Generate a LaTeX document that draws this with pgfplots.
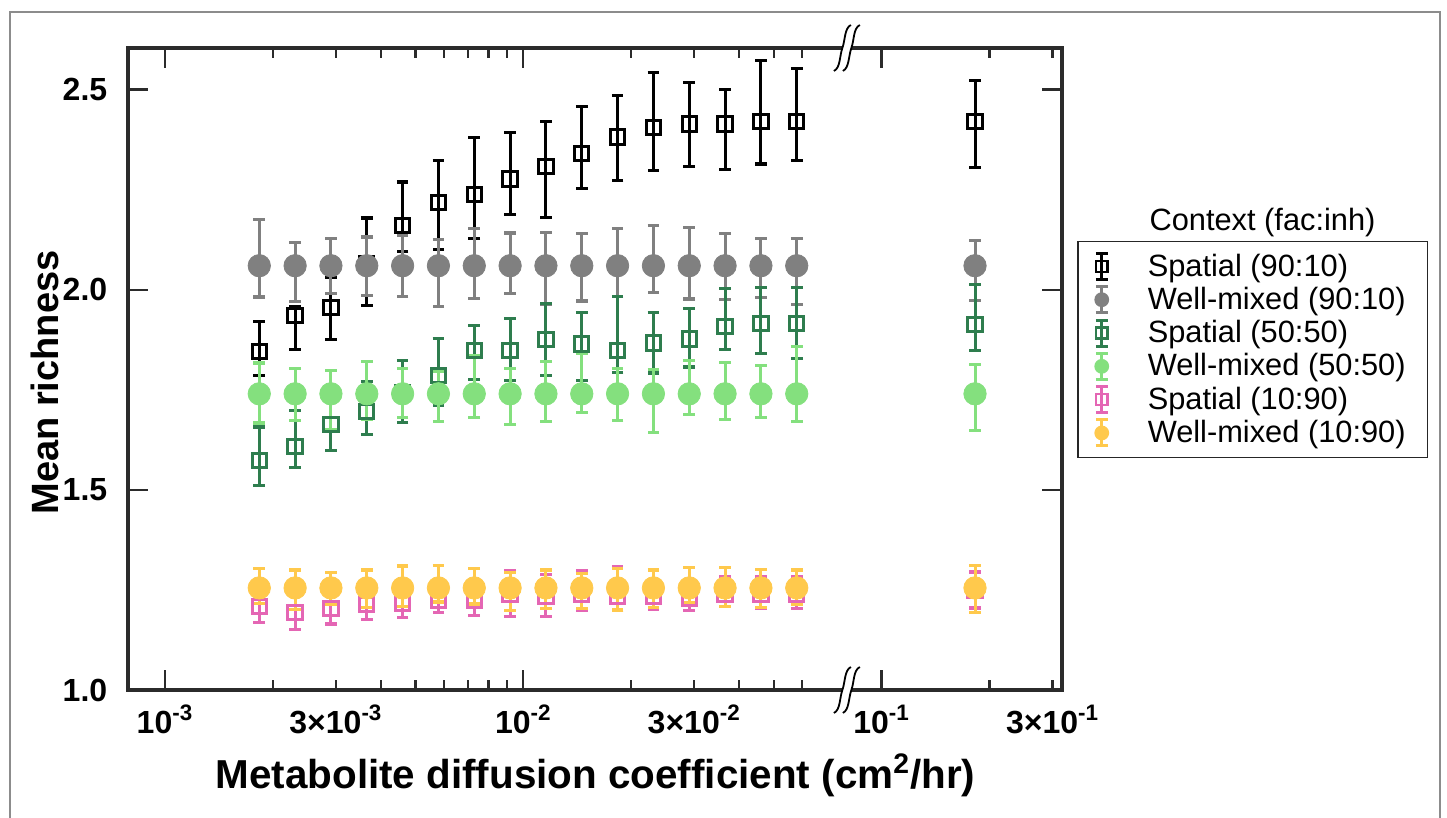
\documentclass[border=0pt]{standalone}
\usepackage{pgfplots}
\pgfplotsset{compat=1.18}
\usepackage{pgfplotstable}
\usepackage{fontspec}
\setmainfont{Liberation Sans}
\definecolor{cgray}{HTML}{808080}
\definecolor{cdg}{HTML}{2E7D4E}
\definecolor{clg}{HTML}{84E07E}
\definecolor{cpk}{HTML}{E466B4}
\definecolor{cyl}{HTML}{FFC94C}
\definecolor{axc}{HTML}{2B2B2B}

\pgfplotstableread{
x y ep em
0.001833 1.845 0.076 0.060
0.002308 1.935 0.023 0.085
0.002905 1.955 0.075 0.080
0.003658 2.065 0.114 0.105
0.004605 2.161 0.108 0.065
0.005797 2.218 0.105 0.118
0.007298 2.238 0.143 0.109
0.009188 2.277 0.115 0.089
0.011567 2.308 0.113 0.127
0.014562 2.340 0.118 0.088
0.018332 2.382 0.104 0.109
0.023079 2.406 0.136 0.108
0.029055 2.414 0.104 0.106
0.036578 2.414 0.086 0.114
0.046049 2.420 0.153 0.106
0.057972 2.420 0.133 0.097
0.1823 2.420 0.103 0.115
}\tblSpatA

\pgfplotstableread{
x y ep em
0.001833 2.060 0.115 0.078
0.002308 2.060 0.058 0.089
0.002905 2.060 0.068 0.070
0.003658 2.060 0.072 0.074
0.004605 2.060 0.077 0.077
0.005797 2.060 0.065 0.102
0.007298 2.060 0.093 0.081
0.009188 2.060 0.082 0.070
0.011567 2.060 0.083 0.096
0.014562 2.060 0.080 0.088
0.018332 2.060 0.093 0.077
0.023079 2.060 0.100 0.067
0.029055 2.060 0.096 0.083
0.036578 2.060 0.080 0.085
0.046049 2.060 0.069 0.079
0.057972 2.060 0.068 0.096
0.1823 2.060 0.063 0.087
}\tblWellA

\pgfplotstableread{
x y ep em
0.001833 1.573 0.084 0.062
0.002308 1.608 0.090 0.052
0.002905 1.663 0.064 0.065
0.003658 1.696 0.075 0.058
0.004605 1.742 0.081 0.074
0.005797 1.785 0.094 0.075
0.007298 1.848 0.062 0.073
0.009188 1.848 0.080 0.075
0.011567 1.875 0.090 0.090
0.014562 1.864 0.079 0.091
0.018332 1.848 0.135 0.055
0.023079 1.867 0.076 0.075
0.029055 1.877 0.076 0.070
0.036578 1.908 0.096 0.058
0.046049 1.915 0.091 0.075
0.057972 1.915 0.091 0.086
0.1823 1.913 0.101 0.065
}\tblSpatB

\pgfplotstableread{
x y ep em
0.001833 1.740 0.077 0.073
0.002308 1.740 0.063 0.067
0.002905 1.740 0.058 0.090
0.003658 1.740 0.081 0.065
0.004605 1.740 0.064 0.060
0.005797 1.740 0.056 0.069
0.007298 1.740 0.095 0.059
0.009188 1.740 0.063 0.076
0.011567 1.740 0.081 0.069
0.014562 1.740 0.102 0.047
0.018332 1.740 0.064 0.067
0.023079 1.740 0.060 0.097
0.029055 1.740 0.083 0.052
0.036578 1.740 0.078 0.065
0.046049 1.740 0.071 0.059
0.057972 1.740 0.118 0.069
0.1823 1.740 0.074 0.092
}\tblWellB

\pgfplotstableread{
x y ep em
0.001833 1.208 0.040 0.039
0.002308 1.194 0.042 0.042
0.002905 1.204 0.040 0.039
0.003658 1.214 0.040 0.037
0.004605 1.217 0.040 0.035
0.005797 1.225 0.040 0.032
0.007298 1.225 0.040 0.038
0.009188 1.238 0.060 0.055
0.011567 1.233 0.055 0.050
0.014562 1.238 0.060 0.040
0.018332 1.233 0.075 0.033
0.023079 1.235 0.040 0.033
0.029055 1.229 0.040 0.031
0.036578 1.238 0.045 0.030
0.046049 1.238 0.045 0.035
0.057972 1.238 0.045 0.035
0.1823 1.250 0.045 0.045
}\tblSpatC

\pgfplotstableread{
x y ep em
0.001833 1.255 0.049 0.038
0.002308 1.255 0.045 0.053
0.002905 1.255 0.038 0.042
0.003658 1.255 0.045 0.049
0.004605 1.255 0.055 0.047
0.005797 1.255 0.056 0.035
0.007298 1.255 0.049 0.040
0.009188 1.255 0.038 0.057
0.011567 1.255 0.045 0.052
0.014562 1.255 0.037 0.052
0.018332 1.255 0.048 0.055
0.023079 1.255 0.045 0.049
0.029055 1.255 0.051 0.037
0.036578 1.255 0.052 0.047
0.046049 1.255 0.047 0.048
0.057972 1.255 0.045 0.042
0.1823 1.255 0.056 0.062
}\tblWellC

\pgfplotsset{
  spat/.style={only marks, color=#1, mark=square, mark size=3.6pt, line width=1.5pt,
    mark options={draw=#1, fill=none, solid},
    error bars/y dir=both, error bars/y explicit,
    error bars/error bar style={line width=1.5pt, color=#1, solid},
    error bars/error mark options={rotate=90, mark size=2.9pt, line width=1.6pt, color=#1},
    legend image code/.code={
      \path[draw=none, fill=none] (0pt,-7pt) rectangle (30pt,7pt);
      \draw[color=#1, line width=1.5pt] (9pt,-6.5pt) -- (9pt,6.5pt) (6pt,-6.5pt) -- (12pt,-6.5pt) (6pt,6.5pt) -- (12pt,6.5pt);
      \draw[color=#1, line width=1.2pt, fill=none] (6.2pt,-2.8pt) rectangle (11.8pt,2.8pt);
    }},
  well/.style={only marks, color=#1, mark=*, mark size=5.6pt,
    mark options={draw=#1, fill=#1, solid},
    error bars/y dir=both, error bars/y explicit,
    error bars/error bar style={line width=1.5pt, color=#1, solid},
    error bars/error mark options={rotate=90, mark size=2.9pt, line width=1.6pt, color=#1},
    legend image code/.code={
      \path[draw=none, fill=none] (0pt,-7pt) rectangle (30pt,7pt);
      \draw[color=#1, line width=1.5pt] (9pt,-6.5pt) -- (9pt,6.5pt) (6pt,-6.5pt) -- (12pt,-6.5pt) (6pt,6.5pt) -- (12pt,6.5pt);
      \fill[color=#1, draw=none] (9pt,0pt) circle (3.7pt);
    }},
}

\begin{document}
\begin{tikzpicture}
\useasboundingbox (-64.15pt,-64pt) rectangle (659.35pt,345pt);
\draw[color=black!45, line width=0.7pt] (-59.15pt,-80pt) -- (-59.15pt,339pt) -- (655.85pt,339pt) -- (655.85pt,-80pt);
\begin{axis}[
  at={(0pt,0pt)}, anchor=south west,
  scale only axis, width=466.7pt, height=321pt,
  xmode=log, xmin=7.9e-4, xmax=0.3182, ymin=1, ymax=2.604,
  xtick={1e-3,1e-2,1e-1},
  xticklabels={10\textsuperscript{-3},10\textsuperscript{-2},10\textsuperscript{-1}},
  extra x ticks={3e-3,3e-2,3e-1},
  extra x tick labels={3×10\textsuperscript{-3},3×10\textsuperscript{-2},3×10\textsuperscript{-1}},
  extra x tick style={major tick length=5pt},
  minor xtick={2e-3,4e-3,5e-3,6e-3,7e-3,8e-3,9e-3,2e-2,4e-2,5e-2,6e-2,2e-1},
  ytick={1,1.5,2,2.5},
  tick align=inside, major tick length=10pt, minor tick length=5pt,
  tick style={line width=1.2pt, color=axc},
  axis line style={line width=2pt, color=axc},
  xticklabel style={font=\fontsize{16}{19}\selectfont\bfseries, yshift=-4pt},
  yticklabel style={font=\fontsize{16}{19}\selectfont\bfseries, xshift=-7pt,
    /pgf/number format/.cd, fixed, fixed zerofill, precision=1, assume math mode=true},
  xlabel={Metabolite diffusion coefficient (cm\textsuperscript{2}/hr)},
  ylabel={Mean richness},
  xlabel style={at={(axis description cs:0.5005,-0.1542)}, anchor=base, font=\fontsize{20.2}{24}\selectfont\bfseries},
  ylabel style={at={(axis description cs:-0.07425,0.479)}, anchor=base, font=\fontsize{19}{23}\selectfont\bfseries},
  legend style={at={(1.0164,0.6994)}, anchor=north west, draw=black!85, line width=0.75pt,
    font=\fontsize{15.4}{17}\selectfont, cells={anchor=west}, row sep=0pt, inner xsep=3pt, inner ysep=4pt},
  clip=false,
]
\addplot[spat=black] table[x=x, y=y, y error plus=ep, y error minus=em] {\tblSpatA};
\addlegendentry{Spatial (90:10)}
\addplot[well=cgray] table[x=x, y=y, y error plus=ep, y error minus=em] {\tblWellA};
\addlegendentry{Well-mixed (90:10)\hspace*{6pt}}
\addplot[spat=cdg] table[x=x, y=y, y error plus=ep, y error minus=em] {\tblSpatB};
\addlegendentry{Spatial (50:50)}
\addplot[well=clg] table[x=x, y=y, y error plus=ep, y error minus=em] {\tblWellB};
\addlegendentry{Well-mixed (50:50)\hspace*{6pt}}
\addplot[spat=cpk] table[x=x, y=y, y error plus=ep, y error minus=em] {\tblSpatC};
\addlegendentry{Spatial (10:90)}
\addplot[well=cyl] table[x=x, y=y, y error plus=ep, y error minus=em] {\tblWellC};
\addlegendentry{Well-mixed (10:90)\hspace*{6pt}}
\coordinate (bb) at (axis cs:0.08,1);
\coordinate (bt) at (axis cs:0.08,2.604);
\end{axis}
\foreach \c in {bb,bt}{
  \begin{scope}[shift={(\c)}]
    \fill[white] (-2.3pt,-2.2pt) rectangle (2.3pt,2.2pt);
    \draw[line width=0.9pt, black] (-6.5pt,-11.5pt) .. controls (-3.2pt,-10pt) and (-3.7pt,-4pt) .. (-2.25pt,0pt) .. controls (-0.8pt,4pt) and (-1.2pt,10pt) .. (2pt,11.5pt);
    \draw[line width=0.9pt, black] (-2pt,-11.5pt) .. controls (1.2pt,-10pt) and (0.8pt,-4pt) .. (2.25pt,0pt) .. controls (3.7pt,4pt) and (3.2pt,10pt) .. (6.5pt,11.5pt);
  \end{scope}
}
\node[font=\fontsize{15.4}{18}\selectfont, anchor=base] at (567.1pt,229.65pt) {Context (fac:inh)};
\end{tikzpicture}
\end{document}
